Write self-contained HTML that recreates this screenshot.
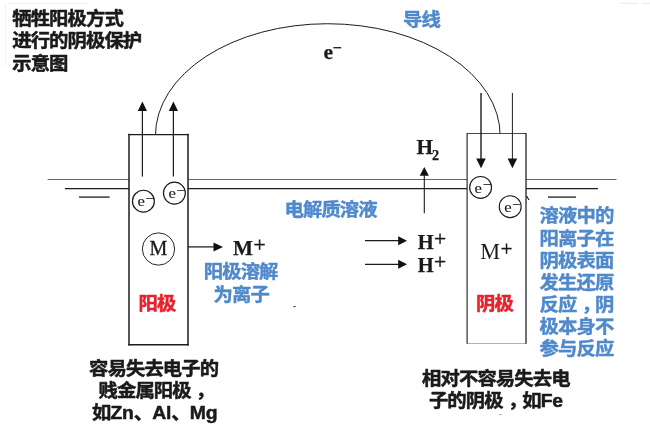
<!DOCTYPE html>
<html lang="zh-CN">
<head>
<meta charset="utf-8">
<title>牺牲阳极方式进行的阴极保护示意图</title>
<style>
html,body{margin:0;padding:0;background:#fff;}
body{width:650px;height:433px;overflow:hidden;position:relative;}
svg{display:block;position:absolute;left:0;top:0;}
.cn{font-family:"Liberation Sans","Noto Sans CJK SC",sans-serif;font-weight:bold;font-size:18.45px;stroke-linejoin:round;}
.k{fill:#1a1a1a;}
.b{fill:#4f89cb;}
.r{fill:#e8212b;}
.cn.k{stroke:#1a1a1a;stroke-width:0.5px;}
.cn.b{stroke:#4f89cb;stroke-width:0.42px;}
.cn.r{stroke:#e8212b;stroke-width:0.5px;}
.sf{font-family:"Liberation Serif",serif;}
.ln{stroke:#1c1c1c;fill:none;}
</style>
</head>
<body>
<svg width="650" height="433" viewBox="0 0 650 433" style="will-change:transform">
<rect x="0" y="0" width="650" height="433" fill="#ffffff"/>
<!-- electrolyte surface lines -->
<g class="ln" stroke-width="1">
<line x1="47.6" y1="179.5" x2="129" y2="179.5" stroke="#62656d"/>
<line x1="64.9" y1="188.68" x2="129" y2="188.68" stroke-width="1.35"/>
<line x1="79" y1="197.1" x2="109.6" y2="197.1" stroke-width="1.4" stroke="#2a2c34"/>
<line x1="188" y1="179.5" x2="467" y2="179.5" stroke="#62656d"/>
<line x1="188" y1="188.68" x2="467" y2="188.68" stroke-width="1.35"/>
<line x1="526" y1="179.5" x2="616.5" y2="179.5" stroke="#62656d"/>
<line x1="526" y1="188.68" x2="598" y2="188.68" stroke-width="1.35"/>
<line x1="548" y1="197.1" x2="576" y2="197.1" stroke-width="1.4" stroke="#2a2c34"/>
<line x1="526.6" y1="196" x2="529" y2="200" stroke-width="1.2"/>
</g>
<!-- wire -->
<path d="M155.45 135.7 A172.12 111.98 0 0 1 327.57 23.72 A172.6 111.98 0 0 1 500.17 135.7" class="ln" stroke-width="1.0" stroke="#26262c"/>
<!-- electrodes -->
<rect x="129" y="134.6" width="59" height="210.4" fill="#fff"/>
<g class="ln" stroke="#17171c" stroke-linecap="square">
<line x1="129" y1="134.6" x2="129" y2="344.7" stroke-width="1.5"/>
<line x1="188" y1="134.6" x2="188" y2="344.7" stroke-width="1.5"/>
<line x1="129" y1="134.6" x2="188" y2="134.6" stroke-width="1.4"/>
<line x1="129" y1="344.7" x2="188" y2="344.7" stroke-width="1.5"/>
</g>
<rect x="467" y="133.5" width="59" height="210" fill="#fff"/>
<g class="ln" stroke="#1c1c22">
<line x1="467.1" y1="133" x2="467.1" y2="343.8" stroke-width="1.1"/>
<line x1="526" y1="133" x2="526" y2="343.8" stroke-width="1.25"/>
<line x1="467" y1="133.5" x2="526" y2="133.5" stroke-width="0.8"/>
<line x1="467" y1="343.5" x2="526" y2="343.5" stroke-width="0.35"/>
</g>
<!-- scan artefacts -->
<rect x="293.5" y="306" width="2" height="1.1" fill="#2a2a2e"/>
<rect x="499" y="414.2" width="2.6" height="0.8" fill="#9a9a9a"/>
<line x1="620" y1="3.2" x2="638" y2="3.2" stroke="#e4e8e8" stroke-width="1"/>
<line x1="642" y1="3.2" x2="650" y2="3.2" stroke="#e4e8e8" stroke-width="1"/>
<line x1="8" y1="3.4" x2="88" y2="3.4" stroke="#f6ecee" stroke-width="1"/>
<line x1="5.6" y1="4" x2="5.6" y2="66" stroke="#f1f1f1" stroke-width="1"/>
<!-- arrows -->
<line x1="142.4" y1="176.5" x2="142.4" y2="110" class="ln" stroke-width="1.2"/>
<path d="M142.4 101.6 L147 111 L137.8 111 Z" fill="#111"/>
<line x1="173.4" y1="176.5" x2="173.4" y2="110" class="ln" stroke-width="1.25"/>
<path d="M173.4 101.6 L178 111 L168.8 111 Z" fill="#111"/>
<line x1="481" y1="92.9" x2="481" y2="159.6" class="ln" stroke-width="1.4"/>
<path d="M481 168.2 L485.75 158.6 L476.25 158.6 Z" fill="#111"/>
<line x1="512.4" y1="92.9" x2="512.4" y2="159.6" class="ln" stroke-width="1"/>
<path d="M512.4 168.2 L517.15 158.6 L507.65 158.6 Z" fill="#111"/>
<line x1="424.3" y1="213.2" x2="424.3" y2="174.8" class="ln" stroke-width="1.1"/>
<path d="M424.3 167 L428.9 175.8 L419.7 175.8 Z" fill="#111"/>
<line x1="188" y1="246.9" x2="214.5" y2="246.9" class="ln" stroke-width="1.25"/>
<path d="M223 246.9 L213.5 242.4 L213.5 251.4 Z" fill="#111"/>
<line x1="365" y1="240.7" x2="399.2" y2="240.7" class="ln" stroke-width="1.3"/>
<path d="M407 240.7 L398.2 236.2 L398.2 245.2 Z" fill="#111"/>
<line x1="365" y1="264.42" x2="399.2" y2="264.42" class="ln" stroke-width="1.25"/>
<path d="M407 264.2 L398.2 259.7 L398.2 268.7 Z" fill="#111"/>
<!-- circles -->
<g class="ln" stroke-width="0.95" stroke="#26262c" fill="#fff">
<circle cx="143.4" cy="201.2" r="10.95" stroke-width="1.2"/>
<circle cx="174.4" cy="193.1" r="10.95" stroke-width="1.2"/>
<circle cx="480.6" cy="187.4" r="10.95" stroke-width="1.15"/>
<circle cx="510.2" cy="206.7" r="10.95" stroke-width="1.15"/>
<circle cx="158.5" cy="249" r="16.15"/>
</g>
<!-- serif labels -->
<g class="sf k">
<text transform="translate(137.4 206.4) scale(1.08 1)" font-size="15.5" stroke="#1a1a1a" stroke-width="0.1">e</text><text x="145.3" y="204.2" font-size="16.5">−</text>
<text transform="translate(168.4 198.3) scale(1.08 1)" font-size="15.5" stroke="#1a1a1a" stroke-width="0.1">e</text><text x="176.3" y="196.1" font-size="16.5">−</text>
<text transform="translate(474.6 192.7) scale(1.08 1)" font-size="15.5" stroke="#1a1a1a" stroke-width="0.1">e</text><text x="482.5" y="190.4" font-size="16.5">−</text>
<text transform="translate(504.2 211.9) scale(1.08 1)" font-size="15.5" stroke="#1a1a1a" stroke-width="0.1">e</text><text x="512.1" y="209.7" font-size="16.5">−</text>
<text x="149.4" y="255.3" font-size="20" stroke="#1a1a1a" stroke-width="0.3">M</text>
<text x="480.25" y="259.3" font-size="22.3">M</text>
<text x="500.7" y="255.7" font-size="20.5" stroke="#1a1a1a" stroke-width="0.45">+</text>
<text x="233.1" y="255.3" font-size="21.2" font-weight="bold" stroke="#1a1a1a" stroke-width="0.25">M</text>
<text x="253.5" y="252.0" font-size="21.5" stroke="#1a1a1a" stroke-width="0.45">+</text>
<text x="416.5" y="153.8" font-size="21.3" font-weight="bold" stroke="#1a1a1a" stroke-width="0.25">H</text>
<text x="432" y="159.7" font-size="14.3" font-weight="bold" stroke="#1a1a1a" stroke-width="0.25">2</text>
<text x="417.8" y="249" font-size="20.5" font-weight="bold" stroke="#1a1a1a" stroke-width="0.25">H</text>
<text x="434.1" y="245.8" font-size="21.5" stroke="#1a1a1a" stroke-width="0.45">+</text>
<text x="417.8" y="272.4" font-size="20.5" font-weight="bold" stroke="#1a1a1a" stroke-width="0.25">H</text>
<text x="434.1" y="268.8" font-size="21.5" stroke="#1a1a1a" stroke-width="0.45">+</text>
<text x="323.6" y="58.8" font-size="21.5" font-weight="bold" stroke="#1a1a1a" stroke-width="0.25">e</text>
<text x="332.65" y="52.9" font-size="16" font-weight="bold" stroke="#1a1a1a" stroke-width="0.25">−</text>
</g>
<!-- Chinese labels -->
<g class="cn k">
<text transform="translate(12.2 25.3) scale(1.05 1)" letter-spacing="-0.879">牺牲阳极方式</text>
<text transform="translate(12.2 47.4) scale(1.05 1)" letter-spacing="-0.879">进行的阴极保护</text>
<text transform="translate(12.2 69.5) scale(1.05 1)" letter-spacing="-0.879">示意图</text>
</g>
<g class="cn b">
<text transform="translate(403 25.6) scale(1.05 1)" letter-spacing="-0.879">导线</text>
<text transform="translate(284.5 215.9) scale(1.05 1)" letter-spacing="-0.879">电解质溶液</text>
<text transform="translate(203.8 278.4) scale(1.05 1)" letter-spacing="-0.879">阳极溶解</text>
<text transform="translate(213.6 300.8) scale(1.05 1)" letter-spacing="-0.879">为离子</text>
<text transform="translate(539.6 222.4) scale(1.05 1)" letter-spacing="-0.879">溶液中的</text>
<text transform="translate(539.6 244.5) scale(1.05 1)" letter-spacing="-0.879">阳离子在</text>
<text transform="translate(539.6 266.6) scale(1.05 1)" letter-spacing="-0.879">阴极表面</text>
<text transform="translate(539.6 288.7) scale(1.05 1)" letter-spacing="-0.879">发生还原</text>
<text transform="translate(539.6 310.8) scale(1.05 1)" letter-spacing="-0.879">反应<tspan dx="4.7619">，</tspan><tspan dx="-4.7619">阴</tspan></text>
<text transform="translate(539.6 332.9) scale(1.05 1)" letter-spacing="-0.879">极本身不</text>
<text transform="translate(539.6 355) scale(1.05 1)" letter-spacing="-0.879">参与反应</text>
</g>
<g class="cn r">
<text transform="translate(138.6 309.5) scale(1.05 1)" letter-spacing="-0.879">阳极</text>
<text transform="translate(476 309.5) scale(1.05 1)" letter-spacing="-0.879">阴极</text>
</g>
<g class="cn k">
<text transform="translate(89.1 374.9) scale(1.05 1)" letter-spacing="-0.879">容易失去电子的</text>
<text transform="translate(98.5 397) scale(1.05 1)" letter-spacing="-0.879">贱金属阳极<tspan dx="4.7619">，</tspan></text>
<text transform="translate(92 419.1) scale(1.05 1)" letter-spacing="-0.879">如<tspan letter-spacing="-0.15">Zn</tspan>、<tspan letter-spacing="-0.15">Al</tspan>、<tspan letter-spacing="-0.15">Mg</tspan></text>
<text transform="translate(422.1 384.7) scale(1.05 1)" letter-spacing="-0.879">相对不容易失去电</text>
<text transform="translate(428.9 406.6) scale(1.05 1)" letter-spacing="-0.879">子的阴极<tspan dx="5.14286">，</tspan><tspan dx="-4.09524">如<tspan letter-spacing="-0.15">Fe</tspan></tspan></text>
</g>
</svg>
</body>
</html>
